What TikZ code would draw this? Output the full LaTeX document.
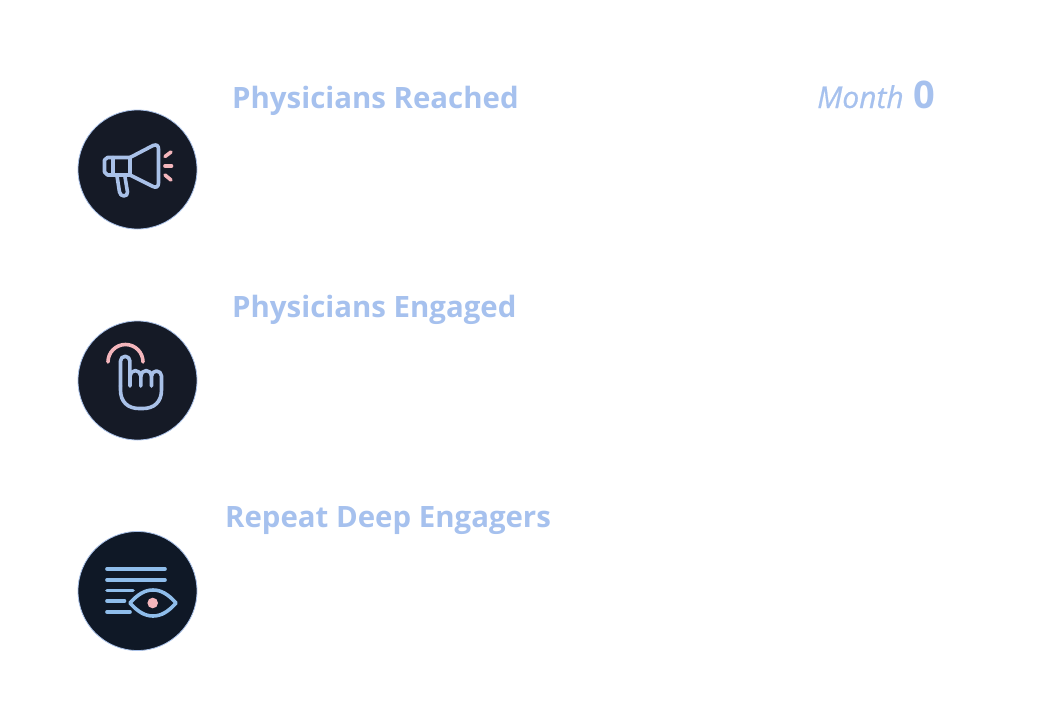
\documentclass[tikz,border=0pt]{standalone}
\usepackage{fontspec}
\setmainfont{Open Sans}
\definecolor{titleblue}{HTML}{A6C1EE}
\definecolor{iconblue}{HTML}{A9C1E8}
\definecolor{eyeblue}{HTML}{8FBDEB}
\definecolor{iconpink}{HTML}{F4B6BC}
\definecolor{discdark}{HTML}{151A26}
\definecolor{discnavy}{HTML}{0F1826}
\tikzset{
  title/.style={anchor=base west, inner sep=0pt, text=titleblue, font=\fontsize{29.4}{30}\selectfont\bfseries},
  disc/.style={draw=iconblue, line width=0.8pt},
  blueline/.style={draw=iconblue, line width=3.6pt, line cap=round, line join=round},
  pinkline/.style={draw=iconpink, line width=3.6pt, line cap=round, line join=round}
}
\begin{document}
\begin{tikzpicture}[x=1pt, y=-1pt]
\useasboundingbox (0,0) rectangle (1052,720);

% titles
\node[title] (reached) at (232,108) {Physicians Reached};
\node[title] (engaged) at (232,317) {Physicians Engaged};
\node[title] (repeat) at (225,527) {Repeat Deep Engagers};
\node[title, font=\fontsize{30}{30}\selectfont\itshape\addfontfeature{FakeBold=0.6}] (month) at (817,108) {Month};
\node[title, font=\fontsize{38}{38}\selectfont\bfseries] (zero) at (913,108) {0};

% megaphone
\fill[disc, fill=discdark] (137.5,169.5) circle [radius=59.5];
\draw[blueline] (113,157.5) -- (107.5,157.5) -- (104.5,160) -- (104.5,172) -- (107.5,175) -- (113,175) -- cycle;
\draw[blueline] (113,157.5) -- (130,157.5) -- (153,145.5) .. controls (157,144) and (158.5,146) .. (158.5,149) -- (158.5,183) .. controls (158.5,187) and (156,188) .. (153,186.5) -- (130,175) -- (113,175);
\draw[blueline] (130,157.5) -- (130,175);
\draw[blueline] (117,176) -- (119.5,192) .. controls (120,197) and (128,197.5) .. (127.5,192) -- (125,177);
\draw[pinkline] (165,156.5) -- (171,152);
\draw[pinkline] (165,166) -- (171.5,166);
\draw[pinkline] (165,175) -- (171,180);

% pointing hand
\fill[disc, fill=discdark] (137.5,380.5) circle [radius=59.5];
\draw[pinkline] (108,362) arc [x radius=17.5, y radius=17.5, start angle=180, end angle=360];
\draw[blueline] (120.5,386) -- (120.5,361) arc [radius=4.7, start angle=180, end angle=360] -- (130,386);
\draw[blueline] (120.5,386) -- (120.5,390) .. controls (120.5,402) and (128,408.5) .. (139,408.5) -- (143,408.5) .. controls (154,408.5) and (161.5,402) .. (161.5,390) -- (161.5,376) arc [radius=5, start angle=0, end angle=-180] (151.5,376) -- (151.5,386);
\draw[blueline] (130,376) arc [radius=5.4, start angle=180, end angle=360] -- (140.8,386);
\draw[blueline] (140.8,376) arc [radius=5.4, start angle=180, end angle=360];

% document and eye
\fill[disc, fill=discnavy] (137.5,591) circle [radius=59.5];
\begin{scope}[blueline/.append style={draw=eyeblue}]
\draw[blueline] (107,569) -- (165,569);
\draw[blueline] (107,580) -- (165,580);
\draw[blueline] (107,590.5) -- (133,590.5);
\draw[blueline] (107,601) -- (124.5,601);
\draw[blueline] (107,612) -- (130,612);
\draw[blueline] (130,603) .. controls (138,594) and (145,590) .. (153,590) .. controls (161,590) and (168,594) .. (176,603) .. controls (168,612) and (161,616) .. (153,616) .. controls (145,616) and (138,612) .. (130,603) -- cycle;
\end{scope}
\fill[iconpink] (152.7,603) circle [radius=5.3];

\end{tikzpicture}
\end{document}
